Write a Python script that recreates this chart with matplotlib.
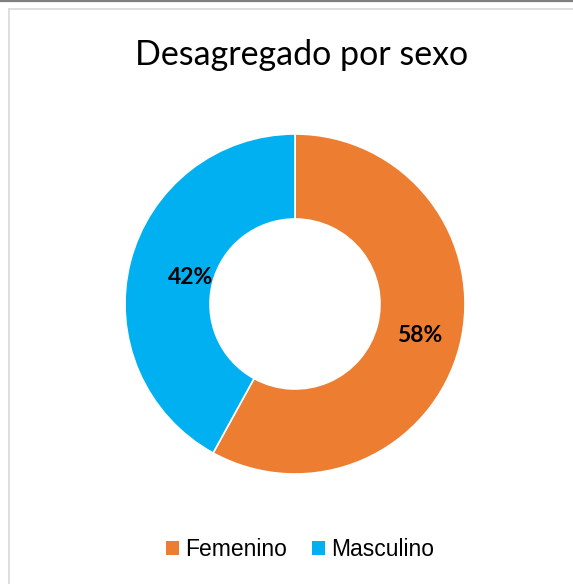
import numpy as np
import matplotlib
matplotlib.use("Agg")
import matplotlib.pyplot as plt
from matplotlib.patches import Patch
from matplotlib.lines import Line2D

labels = ["Femenino", "Masculino"]
values = [58, 42]
colors = ["#ED7D31", "#00B0F0"]
title = "Desagregado por sexo"

W, H = 573, 584
fig = plt.figure(figsize=(W / 100, H / 100), dpi=100)

# chart frame (light grey, left + top) and dark strip at very top
fig.add_artist(Line2D([8.5 / W, 8.5 / W], [0, 1 - 8.5 / H], transform=fig.transFigure,
                      color="#d9d9d9", lw=1.2))
fig.add_artist(Line2D([8.5 / W, 1], [1 - 8.5 / H, 1 - 8.5 / H], transform=fig.transFigure,
                      color="#d9d9d9", lw=1.2))
fig.add_artist(Line2D([0, 1], [1 - 0.8 / H, 1 - 0.8 / H], transform=fig.transFigure,
                      color="#7f7f7f", lw=1.6))

cx, cy, r = 295, 304, 170
ax = fig.add_axes([(cx - r) / W, (H - cy - r) / H, 2 * r / W, 2 * r / H])
wedges, texts, autotexts = ax.pie(
    values, colors=colors, startangle=90, counterclock=False, radius=1,
    autopct=lambda p: f"{p:.0f}%", pctdistance=0.75,
    wedgeprops=dict(width=0.5, edgecolor="white", linewidth=1.2),
    textprops=dict(fontsize=16.5, fontweight="bold", family=["Lato", "DejaVu Sans"], color="black"))

# Excel places the labels at slightly different distances
label_dist = [0.755, 0.635]
for w, t, d in zip(wedges, autotexts, label_dist):
    ang = np.deg2rad((w.theta1 + w.theta2) / 2)
    t.set_position((d * np.cos(ang), d * np.sin(ang)))

ax.set_xlim(-1, 1)
ax.set_ylim(-1, 1)
ax.set_aspect("equal")
ax.axis("off")

fig.text(302 / W, 1 - 55 / H, title, ha="center", va="center", fontsize=24.5,
         family=["Lato", "DejaVu Sans"], color="#000000")

handles = [Patch(facecolor=c, edgecolor="none") for c in colors]
fig.legend(handles, labels, loc="center", bbox_to_anchor=(300 / W, 1 - 550 / H),
           ncol=2, frameon=False, handlelength=0.57, handleheight=0.57, handletextpad=0.27,
           columnspacing=1.1, prop=dict(family="Liberation Sans", size=16.5))

fig.savefig("out.png", dpi=100, facecolor="white")
